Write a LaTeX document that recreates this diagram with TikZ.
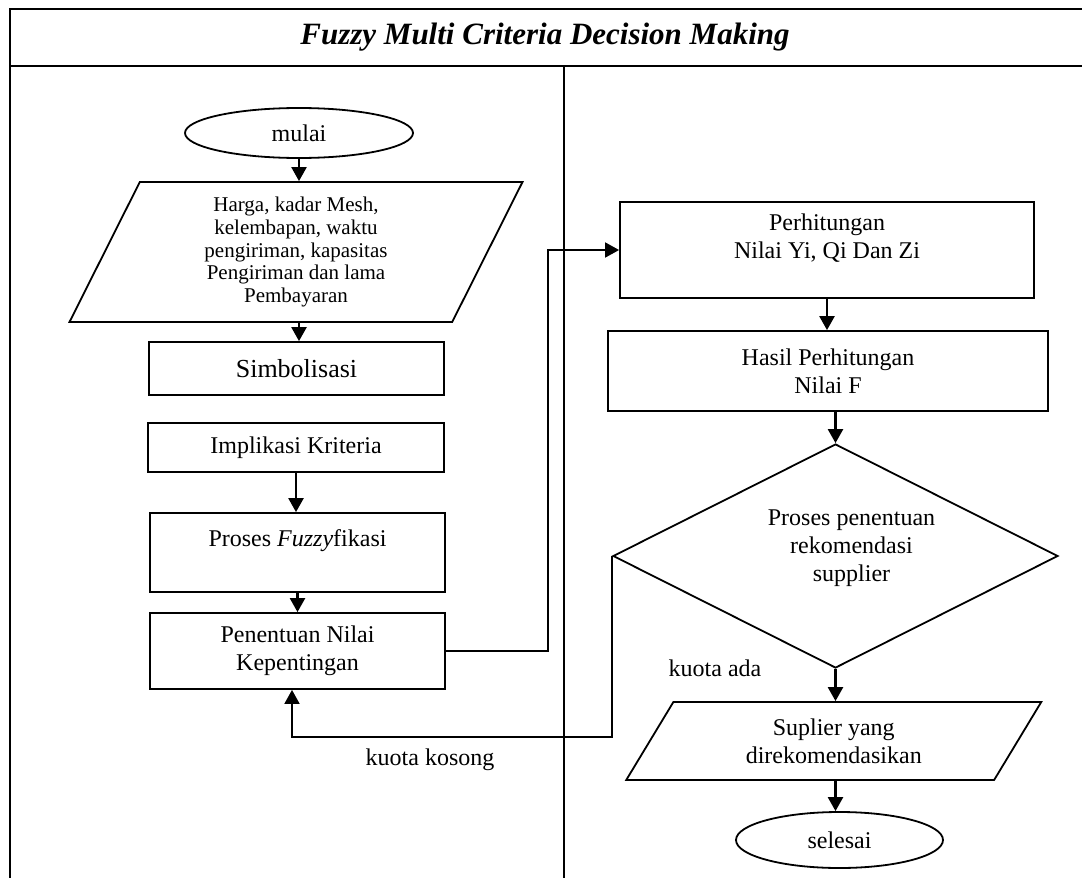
\documentclass[tikz,border=0pt]{standalone}
\usepackage{fontspec}
\setmainfont{Liberation Serif}
\usetikzlibrary{shapes.geometric,arrows.meta}

\begin{document}
\begin{tikzpicture}[x=0.5pt,y=-0.5pt,
  teks/.style={font=\fontsize{12}{14}\selectfont},
  kotak/.style={draw,line width=0.9pt,rectangle,inner sep=0pt,align=center,teks},
  oval/.style={draw,line width=0.9pt,ellipse,inner sep=0pt,teks},
  jajar/.style={draw,line width=0.9pt,trapezium,trapezium stretches body,inner sep=0pt,align=center,teks},
  belah/.style={draw,line width=0.9pt,diamond,inner sep=0pt},
  panah/.style={line width=1.2pt,-{Triangle[length=7pt,width=7.5pt]}},
  alur/.style={line width=0.9pt,-{Triangle[length=7pt,width=7.5pt]}}]
\useasboundingbox (0,0) rectangle (1082,878);
\clip (0,0) rectangle (1082,878);
% bingkai
\draw[line width=1.3pt] (10,890) |- (1090,9);
\draw[line width=1.3pt] (10,66) -- (1090,66);
\draw[line width=0.9pt] (564,66) -- (564,890);
\node (judul) at (545,37) {\fontsize{15.5}{18}\selectfont\bfseries\itshape Fuzzy Multi Criteria Decision Making};
% kolom kiri
\node[oval,minimum width=114pt,minimum height=25pt] (mulai) at (299,133) {mulai};
\node[jajar,trapezium left angle=57.3,trapezium right angle=122.7,minimum width=226.5pt,minimum height=70pt,font=\fontsize{10.5}{11.3}\selectfont] (input) at (296,252) {Harga, kadar Mesh,\\kelembapan, waktu\\pengiriman, kapasitas\\Pengiriman dan lama\\Pembayaran};
\node[kotak,minimum width=147.5pt,minimum height=26.5pt,font=\fontsize{13}{15}\selectfont] (simbol) at (296.5,368.5) {Simbolisasi};
\node[kotak,minimum width=148pt,minimum height=24.5pt] (implikasi) at (296,447.5) {Implikasi Kriteria};
\node[kotak,minimum width=147.5pt,minimum height=39.5pt] (fuzzy) at (297.5,552.5) {Proses \textit{Fuzzy}fikasi\\ ~};
\node[kotak,minimum width=147.5pt,minimum height=38pt] (penentuan) at (297.5,651) {Penentuan Nilai\\Kepentingan};
% kolom kanan
\node[kotak,minimum width=207pt,minimum height=48pt] (hitung) at (827,250) {Perhitungan\\Nilai Yi, Qi Dan Zi\\ ~};
\node[kotak,minimum width=220pt,minimum height=40pt] (hasil) at (828,371) {Hasil Perhitungan\\Nilai F};
\node[belah,minimum width=222.5pt,minimum height=112pt,label={[teks,align=center,xshift=8pt,yshift=4pt]center:{Proses penentuan\\rekomendasi\\supplier}}] (cek) at (835.5,556) {};
\node[jajar,trapezium left angle=43.6,trapezium right angle=136.4,minimum width=207.5pt,minimum height=39pt] (keluaran) at (833.75,741) {Suplier yang\\direkomendasikan};
\node[oval,minimum width=103.5pt,minimum height=28pt] (selesai) at (839.5,840) {selesai};
\node[teks] (ada) at (715,668) {kuota ada};
\node[teks] (kosong) at (430,760) {kuota kosong};
\coordinate (belok) at (548,0);
\coordinate (balik) at (292,737);
% panah
\draw[panah] (mulai.south) -- (mulai.south |- input.north);
\draw[panah] (input.south -| mulai.south) -- (mulai.south |- simbol.north);
\draw[panah] (implikasi.south) -- (implikasi.south |- fuzzy.north);
\draw[panah] (fuzzy.south) -- (fuzzy.south |- penentuan.north);
\draw[alur] (penentuan.east) -- (penentuan.east -| belok) |- (hitung.west);
\draw[panah] (hitung.south) -- (hitung.south |- hasil.north);
\draw[panah] (cek.north |- hasil.south) -- (cek.north);
\draw[panah] (cek.south) -- (cek.south |- keluaran.north);
\draw[panah] (keluaran.south -| cek.south) -- (cek.south |- selesai.north);
\draw[alur] (cek.west) |- (balik) -- (balik |- penentuan.south);
\end{tikzpicture}
\end{document}
